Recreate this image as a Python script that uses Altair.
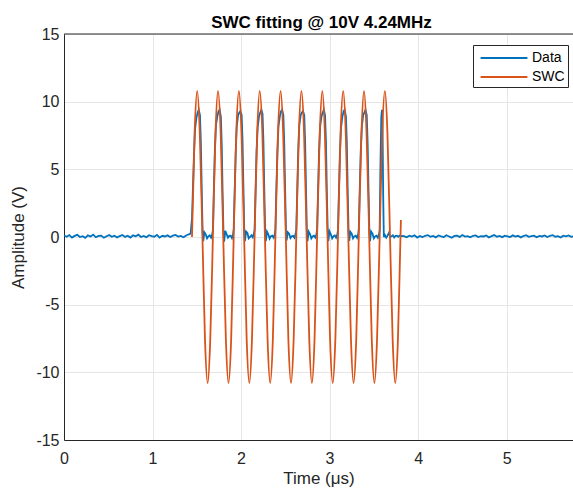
import altair as alt
import pandas as pd

# ---------------- data ----------------
# Data (blue): baseline noise before the burst
pre_t = [0.00, 0.03, 0.06, 0.09, 0.12, 0.15, 0.18, 0.21, 0.24, 0.27,
         0.30, 0.33, 0.36, 0.39, 0.42, 0.45, 0.48, 0.51, 0.54, 0.57,
         0.60, 0.63, 0.66, 0.69, 0.72, 0.75, 0.78, 0.81, 0.84, 0.87,
         0.90, 0.93, 0.96, 0.99, 1.02, 1.05, 1.08, 1.11, 1.14, 1.17,
         1.20, 1.23, 1.26, 1.29, 1.32, 1.35, 1.38, 1.41, 1.43]
pre_v = [0.10, 0.02, 0.14, -0.04, 0.08, 0.16, 0.00, 0.06, -0.06, 0.12,
         0.04, 0.18, -0.02, 0.08, 0.10, -0.05, 0.06, 0.14, 0.02, 0.10,
         -0.03, 0.07, 0.15, 0.01, 0.09, -0.04, 0.12, 0.05, 0.17, 0.00,
         0.08, -0.02, 0.13, 0.06, 0.02, 0.16, -0.05, 0.09, 0.04, 0.12,
         0.00, 0.10, 0.15, 0.03, 0.08, -0.02, 0.11, 0.20, 0.25]

# Data (blue): the ten received lobes of the burst
c0_t = [1.446, 1.456, 1.468, 1.481, 1.496, 1.510, 1.522, 1.536, 1.546, 1.556, 1.566, 1.573, 1.586, 1.601, 1.616, 1.631, 1.646, 1.661, 1.674]
c0_v = [1.4, 3.5, 6.0, 8.0, 8.8, 9.2, 9.4, 9.0, 7.0, 3.5, 0.3, -0.3, 0.35, 0.2, -0.1, 0.05, 0.12, -0.05, 0.2]
c1_t = [1.682, 1.692, 1.704, 1.717, 1.732, 1.746, 1.758, 1.772, 1.782, 1.792, 1.802, 1.809, 1.822, 1.837, 1.852, 1.867, 1.882, 1.897, 1.910]
c1_v = [0.5, 3.3, 6.4, 8.3, 8.9, 9.3, 9.4, 8.9, 6.8, 3.2, 0.2, -0.35, 0.45, 0.2, -0.05, 0.08, 0.1, -0.08, 0.2]
c2_t = [1.917, 1.927, 1.939, 1.952, 1.967, 1.981, 1.993, 2.007, 2.017, 2.027, 2.037, 2.044, 2.057, 2.072, 2.087, 2.102, 2.117, 2.132, 2.145]
c2_v = [0.6, 3.1, 6.2, 8.2, 9.0, 9.2, 9.3, 9.0, 7.1, 3.6, 0.3, -0.3, 0.4, 0.3, -0.1, 0.0, 0.12, -0.03, 0.25]
c3_t = [2.153, 2.163, 2.175, 2.188, 2.203, 2.217, 2.229, 2.243, 2.253, 2.263, 2.273, 2.280, 2.293, 2.308, 2.323, 2.338, 2.353, 2.368, 2.381]
c3_v = [0.5, 3.2, 6.3, 8.1, 8.9, 9.2, 9.4, 9.1, 7.0, 3.4, 0.25, -0.3, 0.4, 0.2, -0.12, 0.06, 0.1, -0.05, 0.2]
c4_t = [2.388, 2.398, 2.410, 2.423, 2.438, 2.452, 2.464, 2.478, 2.488, 2.498, 2.508, 2.515, 2.528, 2.543, 2.558, 2.573, 2.588, 2.603, 2.616]
c4_v = [0.6, 3.3, 6.2, 8.2, 8.9, 9.3, 9.4, 9.0, 6.9, 3.5, 0.3, -0.25, 0.35, 0.25, -0.08, 0.05, 0.08, -0.06, 0.22]
c5_t = [2.624, 2.634, 2.646, 2.659, 2.674, 2.688, 2.700, 2.714, 2.724, 2.734, 2.744, 2.751, 2.764, 2.779, 2.794, 2.809, 2.824, 2.839, 2.852]
c5_v = [0.55, 3.2, 6.4, 8.3, 9.0, 9.2, 9.3, 9.0, 7.0, 3.6, 0.3, -0.3, 0.4, 0.22, -0.1, 0.04, 0.1, -0.04, 0.2]
c6_t = [2.859, 2.869, 2.881, 2.894, 2.909, 2.923, 2.935, 2.949, 2.959, 2.969, 2.979, 2.986, 2.999, 3.014, 3.029, 3.044, 3.059, 3.074, 3.087]
c6_v = [0.6, 3.1, 6.3, 8.2, 8.9, 9.2, 9.4, 9.0, 7.1, 3.5, 0.35, -0.3, 0.42, 0.2, -0.1, 0.06, 0.11, -0.05, 0.18]
c7_t = [3.095, 3.105, 3.117, 3.130, 3.145, 3.159, 3.171, 3.185, 3.195, 3.205, 3.215, 3.222, 3.235, 3.250, 3.265, 3.280, 3.295, 3.310, 3.323]
c7_v = [0.5, 3.2, 6.2, 8.1, 8.9, 9.3, 9.4, 8.9, 7.0, 3.4, 0.3, -0.28, 0.38, 0.24, -0.1, 0.05, 0.1, -0.06, 0.2]
c8_t = [3.330, 3.340, 3.352, 3.365, 3.380, 3.394, 3.406, 3.420, 3.430, 3.440, 3.450, 3.457, 3.470, 3.485, 3.500, 3.515, 3.530, 3.545, 3.558]
c8_v = [0.6, 3.3, 6.3, 8.2, 9.0, 9.2, 9.4, 9.0, 7.0, 3.5, 0.3, -0.3, 0.4, 0.25, -0.1, 0.05, 0.1, -0.05, 0.2]
c9_t = [3.566, 3.574, 3.584, 3.592, 3.598, 3.606, 3.613, 3.625, 3.640, 3.655, 3.670, 3.685, 3.700, 3.715, 3.730, 3.745, 3.760, 3.775, 3.790, 3.805, 3.820]
c9_v = [0.5, 5.0, 8.8, 9.4, 8.5, 3.0, 0.0, 0.15, -0.05, 0.1, 0.3, 0.0, 0.05, 0.12, -0.04, 0.08, 0.1, 0.02, 0.1, 0.05, 0.08]

# Data (blue): baseline noise after the burst
post_t = [3.84, 3.87, 3.90, 3.93, 3.96, 3.99, 4.02, 4.05, 4.08, 4.11,
          4.14, 4.17, 4.20, 4.23, 4.26, 4.29, 4.32, 4.35, 4.38, 4.41,
          4.44, 4.47, 4.50, 4.53, 4.56, 4.59, 4.62, 4.65, 4.68, 4.71,
          4.74, 4.77, 4.80, 4.83, 4.86, 4.89, 4.92, 4.95, 4.98, 5.01,
          5.04, 5.07, 5.10, 5.13, 5.16, 5.19, 5.22, 5.25, 5.28, 5.31,
          5.34, 5.37, 5.40, 5.43, 5.46, 5.49, 5.52, 5.55, 5.58, 5.61,
          5.64, 5.67, 5.70, 5.73, 5.76]
post_v = [0.06, -0.02, 0.10, 0.03, 0.12, -0.04, 0.07, 0.00, 0.09, 0.14,
          0.02, 0.08, -0.03, 0.11, 0.05, 0.00, 0.13, 0.04, -0.05, 0.08,
          0.10, 0.01, 0.15, 0.03, 0.06, -0.02, 0.09, 0.12, 0.00, 0.07,
          0.04, 0.11, -0.04, 0.06, 0.14, 0.02, 0.08, -0.01, 0.10, 0.05,
          0.00, 0.12, 0.03, 0.09, -0.03, 0.07, 0.13, 0.01, 0.06, 0.10,
          -0.02, 0.08, 0.04, 0.11, 0.00, 0.09, 0.14, 0.02, 0.06, -0.04,
          0.10, 0.05, 0.12, 0.01, 0.07]

# SWC fit (orange): samples of the fitted sine burst (4.24 MHz, 10 cycles)
swc_t = [1.446, 1.475, 1.505, 1.534, 1.564, 1.593, 1.623, 1.652,
         1.682, 1.711, 1.740, 1.770, 1.799, 1.829, 1.858, 1.888,
         1.917, 1.946, 1.976, 2.005, 2.035, 2.064, 2.094, 2.123,
         2.153, 2.182, 2.211, 2.241, 2.270, 2.300, 2.329, 2.359,
         2.388, 2.417, 2.447, 2.476, 2.506, 2.535, 2.565, 2.594,
         2.624, 2.653, 2.682, 2.712, 2.741, 2.771, 2.800, 2.830,
         2.859, 2.889, 2.918, 2.947, 2.977, 3.006, 3.036, 3.065,
         3.095, 3.124, 3.154, 3.183, 3.212, 3.242, 3.271, 3.301,
         3.330, 3.360, 3.389, 3.418, 3.448, 3.477, 3.507, 3.536,
         3.566, 3.595, 3.625, 3.654, 3.683, 3.713, 3.742, 3.772,
         3.801, 3.806]
swc_v = [0, 7.64, 10.8, 7.64, 0, -7.64, -10.8, -7.64,
         0, 7.64, 10.8, 7.64, 0, -7.64, -10.8, -7.64,
         0, 7.64, 10.8, 7.64, 0, -7.64, -10.8, -7.64,
         0, 7.64, 10.8, 7.64, 0, -7.64, -10.8, -7.64,
         0, 7.64, 10.8, 7.64, 0, -7.64, -10.8, -7.64,
         0, 7.64, 10.8, 7.64, 0, -7.64, -10.8, -7.64,
         0, 7.64, 10.8, 7.64, 0, -7.64, -10.8, -7.64,
         0, 7.64, 10.8, 7.64, 0, -7.64, -10.8, -7.64,
         0, 7.64, 10.8, 7.64, 0, -7.64, -10.8, -7.64,
         0, 7.64, 10.8, 7.64, 0, -7.64, -10.8, -7.64,
         0, 1.25]

x_ticks = [0, 1, 2, 3, 4, 5]
y_ticks = [-15, -10, -5, 0, 5, 10, 15]
series_names = ["Data", "SWC"]
series_colors = ["#0072BD", "#D95319"]

# ---------------- build tables ----------------
data_t = pre_t + c0_t + c1_t + c2_t + c3_t + c4_t + c5_t + c6_t + c7_t + c8_t + c9_t + post_t
data_v = pre_v + c0_v + c1_v + c2_v + c3_v + c4_v + c5_v + c6_v + c7_v + c8_v + c9_v + post_v
df_data = pd.DataFrame({"t": data_t, "v": data_v, "series": "Data"})
df_swc = pd.DataFrame({"t": swc_t, "v": swc_v, "series": "SWC"})
df_top = pd.DataFrame({"y": [15]})

FONT = "Liberation Sans"
TXT = "#262626"

x_scale = alt.Scale(domain=[0, 5.75], nice=False, zero=False)
y_scale = alt.Scale(domain=[-15, 15], nice=False)
color_scale = alt.Scale(domain=series_names, range=series_colors)

x_enc = alt.X("t:Q", scale=x_scale,
              axis=alt.Axis(values=x_ticks, labelExpr="datum.value + ''", title="Time (μs)",
                            labelPadding=10, titlePadding=4, labelFlush=False))
y_enc = alt.Y("v:Q", scale=y_scale,
              axis=alt.Axis(values=y_ticks, labelExpr="datum.value + ''", title="Amplitude (V)",
                            labelPadding=5, titlePadding=8, labelFlush=False))
color_enc = alt.Color("series:N", scale=color_scale,
                      legend=alt.Legend(title=None, orient="none", legendX=409, legendY=11,
                                        symbolType="M-2.6,0L2.6,0", symbolSize=324,
                                        symbolStrokeWidth=2, labelFontSize=14,
                                        labelFont=FONT, labelColor="#000",
                                        strokeColor="#262626", fillColor="white",
                                        padding=3, rowPadding=2, labelOffset=18,
                                        symbolOffset=18))

data_line = alt.Chart(df_data).mark_line(strokeWidth=1.8, clip=True).encode(
    x=x_enc, y=y_enc, color=color_enc)
swc_line = alt.Chart(df_swc).mark_line(strokeWidth=1.8, clip=True, interpolate="monotone").encode(
    x=x_enc, y=y_enc, color=color_enc)
top_border = alt.Chart(df_top).mark_rule(color=TXT, strokeWidth=1).encode(
    y=alt.Y("y:Q", scale=y_scale))

chart = alt.layer(data_line, swc_line, top_border).properties(
    width=509, height=406,
    title=alt.TitleParams("SWC fitting @ 10V 4.24MHz", font=FONT, fontSize=17,
                          fontWeight="bold", color="#000", offset=-6, frame="group", dx=3),
    autosize=alt.AutoSizeParams(type="none"),
    padding={"left": 64, "top": 34, "right": 0, "bottom": 50},
).configure(background="white").configure_view(stroke=None).configure_axis(
    domainColor=TXT, labelColor=TXT, titleColor=TXT, gridColor="#e6e6e6",
    labelFont=FONT, titleFont=FONT, labelFontSize=16, titleFontSize=17,
    titleFontWeight="normal", ticks=False, domainWidth=1
)

chart.save("out.html", embed_options={"renderer": "svg", "actions": False})
